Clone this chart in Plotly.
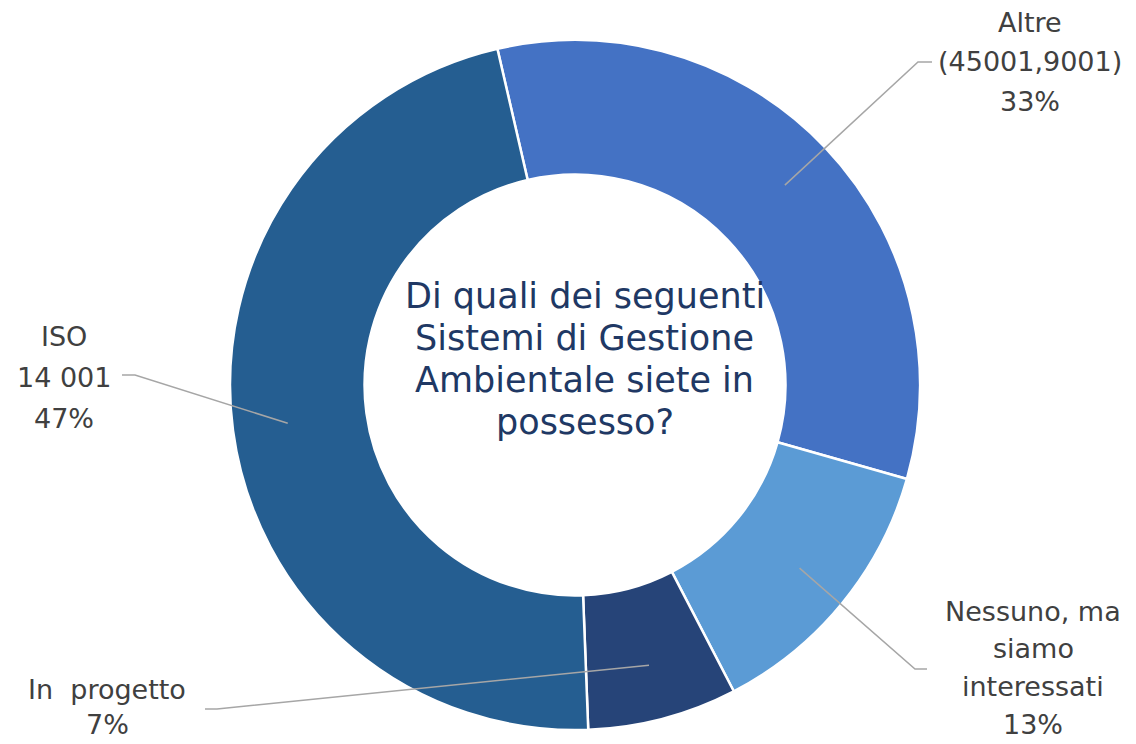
import math
import plotly.graph_objects as go

# ---- data ----
categories = ["Altre (45001,9001)", "Nessuno, ma siamo interessati", "In  progetto", "ISO 14 001"]
label_lines = [
    ["Altre", "(45001,9001)"],
    ["Nessuno, ma", "siamo", "interessati"],
    ["In  progetto"],
    ["ISO", "14 001"],
]
values = [33, 13, 7, 47]
colors = ["#4472C4", "#5B9BD5", "#264478", "#255E91"]
title_lines = ["Di quali dei seguenti", "Sistemi di Gestione", "Ambientale siete in", "possesso?"]

# ---- layout geometry (screen pixels; page body has an 8px margin) ----
OFF = 8
W, H = 1136 - OFF, 744 - OFF
CX, CY, R = 575, 385, 345
ROT = -13
FONT = "DejaVu Sans"

# label line centers (x, first y, line step) and leader-line text-side points
label_pos = [(1030, 22, 39.5), (1033, 611, 37.7), (107, 689, 35), (64, 336, 41)]
leader_text_pts = [[(932, 62), (918, 62)], [(927, 669), (915, 669)],
                   [(205, 709), (217, 709)], [(122, 375), (135, 375)]]
title_pos = (585, 296, 42)


def px(x):
    return (x - OFF) / W


def py(y):
    return 1 - (y - OFF) / H


fig = go.Figure()
fig.add_trace(go.Pie(
    labels=categories,
    values=values,
    hole=0.61,
    sort=False,
    direction="clockwise",
    rotation=ROT,
    marker=dict(colors=colors, line=dict(color="white", width=2.5)),
    textinfo="none",
    hoverinfo="label+percent",
    showlegend=False,
    domain=dict(x=[px(CX - R), px(CX + R)], y=[py(CY + R), py(CY - R)]),
))

annotations = []
shapes = []
total = sum(values)
cum = 0
for i, v in enumerate(values):
    mid = ROT + (cum + v / 2) / total * 360
    cum += v
    a = math.radians(mid)
    ex = CX + 0.84 * R * math.sin(a)
    ey = CY - 0.84 * R * math.cos(a)
    (x0, y0), (x1, y1) = leader_text_pts[i]
    path = f"M {px(x0)} {py(y0)} L {px(x1)} {py(y1)} L {px(ex)} {py(ey)}"
    shapes.append(dict(type="path", path=path, xref="paper", yref="paper",
                       line=dict(color="#A6A6A6", width=1.5)))
    pct = f"{round(v / total * 100)}%"
    lines = label_lines[i] + [pct]
    lx, ly, step = label_pos[i]
    for j, t in enumerate(lines):
        annotations.append(dict(text=t, x=px(lx), y=py(ly + j * step), xref="paper", yref="paper",
                                xanchor="center", yanchor="middle", showarrow=False,
                                font=dict(family=FONT, size=27, color="#404040")))

tx, ty, tstep = title_pos
for j, t in enumerate(title_lines):
    annotations.append(dict(text=t, x=px(tx), y=py(ty + j * tstep), xref="paper", yref="paper",
                            xanchor="center", yanchor="middle", showarrow=False,
                            font=dict(family=FONT, size=35, color="#203864")))

fig.update_layout(
    width=W, height=H,
    margin=dict(l=0, r=0, t=0, b=0),
    paper_bgcolor="white", plot_bgcolor="white",
    annotations=annotations, shapes=shapes,
)

fig.write_html("out.html")
